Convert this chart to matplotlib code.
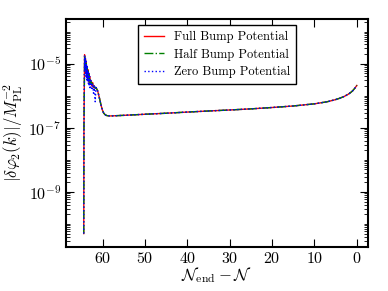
"""
Second-order field perturbation |delta phi_2(k)| vs e-folds before end of inflation,
for the three bump potentials.
"""

import numpy as np
import matplotlib
matplotlib.use("Agg")
import matplotlib.pyplot as plt
from matplotlib.ticker import LogLocator, NullFormatter

plt.rcParams["font.family"] = "serif"
plt.rcParams["font.serif"] = ["cmr10", "DejaVu Serif"]
plt.rcParams["mathtext.fontset"] = "cm"
plt.rcParams["axes.formatter.use_mathtext"] = True
plt.rcParams["font.size"] = 12

# e-folds before end, N_end - N
n_left = [64.5, 64.45, 64.3, 64.2, 64.1, 64.0, 63.9, 63.8, 63.7, 63.6, 63.5,
          63.4, 63.3, 63.2, 63.1, 63.0, 62.8, 62.6, 62.4, 62.2, 62.0, 61.8,
          61.6, 61.4, 61.2, 61.0, 60.7, 60.4, 60.1, 59.8, 59.5, 59.2, 59.0,
          58.5, 58.0, 55.0, 50.0, 45.0, 40.0, 35.0, 30.0, 25.0, 20.0, 15.0,
          10.0, 7.0, 5.0, 4.0, 3.0, 2.0, 1.5, 1.0, 0.5, 0.0]

full_bump = [5e-11, 1e-7, 1.9e-5, 8e-6, 1.4e-5, 5e-6, 1.1e-5, 4e-6, 8e-6,
             3.5e-6, 6.5e-6, 3e-6, 5e-6, 2.6e-6, 4e-6, 2.3e-6, 3e-6, 2e-6,
             2.6e-6, 1.8e-6, 2.0e-6, 1.7e-6, 1.8e-6, 1.6e-6, 1.4e-6, 1.1e-6,
             7.5e-7, 5e-7, 3.6e-7, 2.9e-7, 2.6e-7, 2.45e-7, 2.4e-7, 2.35e-7,
             2.35e-7, 2.45e-7, 2.65e-7, 2.85e-7, 3.1e-7, 3.35e-7, 3.6e-7,
             3.9e-7, 4.3e-7, 4.8e-7, 5.6e-7, 6.5e-7, 7.6e-7, 8.4e-7, 9.5e-7,
             1.12e-6, 1.25e-6, 1.42e-6, 1.7e-6, 2.1e-6]

half_bump = [5e-11, 1e-7, 1.7e-5, 9e-6, 1.3e-5, 6e-6, 1.0e-5, 4.5e-6, 7.5e-6,
             4e-6, 6e-6, 3.4e-6, 4.6e-6, 2.9e-6, 3.7e-6, 2.5e-6, 2.8e-6, 2.1e-6,
             2.4e-6, 1.9e-6, 2.0e-6, 1.75e-6, 1.8e-6, 1.6e-6, 1.4e-6, 1.1e-6,
             7.5e-7, 5e-7, 3.6e-7, 2.9e-7, 2.6e-7, 2.45e-7, 2.4e-7, 2.35e-7,
             2.35e-7, 2.45e-7, 2.65e-7, 2.85e-7, 3.1e-7, 3.35e-7, 3.6e-7,
             3.9e-7, 4.3e-7, 4.8e-7, 5.6e-7, 6.5e-7, 7.6e-7, 8.4e-7, 9.5e-7,
             1.12e-6, 1.25e-6, 1.42e-6, 1.7e-6, 2.1e-6]

zero_bump = [5e-11, 1e-7, 1.8e-5, 6e-6, 1.5e-5, 4e-6, 1.2e-5, 3e-6, 9e-6,
             2.8e-6, 6e-6, 2.4e-6, 5e-6, 2e-6, 4e-6, 1.6e-6, 3e-6, 1.5e-6,
             2.4e-6, 1.2e-6, 2.0e-6, 6.5e-7, 1.8e-6, 1.6e-6, 1.4e-6, 1.1e-6,
             7.5e-7, 5e-7, 3.6e-7, 2.9e-7, 2.6e-7, 2.45e-7, 2.4e-7, 2.35e-7,
             2.35e-7, 2.45e-7, 2.65e-7, 2.85e-7, 3.1e-7, 3.35e-7, 3.6e-7,
             3.9e-7, 4.3e-7, 4.8e-7, 5.6e-7, 6.5e-7, 7.6e-7, 8.4e-7, 9.5e-7,
             1.12e-6, 1.25e-6, 1.42e-6, 1.7e-6, 2.1e-6]

fig = plt.figure(figsize=(3.88, 2.91), dpi=100)
ax = fig.add_axes([0.170, 0.151, 0.778, 0.784])

ax.plot(n_left, full_bump, color="red", ls="-", lw=1.0, label="Full Bump Potential")
ax.plot(n_left, half_bump, color="green", ls="-.", lw=1.0, label="Half Bump Potential")
ax.plot(n_left, zero_bump, color="blue", ls=":", lw=1.0, label="Zero Bump Potential")

ax.set_yscale("log")
ax.set_xlim(68.7, -2.6)
ax.set_ylim(1.9e-11, 2.5e-4)
ax.set_xticks([60, 50, 40, 30, 20, 10, 0])
ax.yaxis.set_major_locator(LogLocator(base=100.0, subs=[0.1]))
ax.yaxis.set_minor_locator(LogLocator(base=10.0, subs=np.arange(1, 10), numticks=30))
ax.yaxis.set_minor_formatter(NullFormatter())

ax.tick_params(direction="in", top=True, right=True, which="both", labelsize=11.5)
ax.tick_params(axis="x", pad=3)
ax.tick_params(which="major", length=6)
ax.tick_params(which="minor", length=3)
for spine in ax.spines.values():
    spine.set_linewidth(1.5)

ax.set_xlabel(r"$\mathcal{N}_{\rm end}-\mathcal{N}$", labelpad=-1)
ax.set_ylabel(r"$|\delta\varphi_2(k)|/M_{\rm PL}^{-2}$", labelpad=2)

leg = ax.legend(loc="upper center", fontsize=9, fancybox=False, framealpha=1,
                edgecolor="black", borderaxespad=0.5, handlelength=1.6,
                labelspacing=0.45, borderpad=0.45)
leg.get_frame().set_linewidth(1.0)

fig.savefig("out.png", dpi=100)
